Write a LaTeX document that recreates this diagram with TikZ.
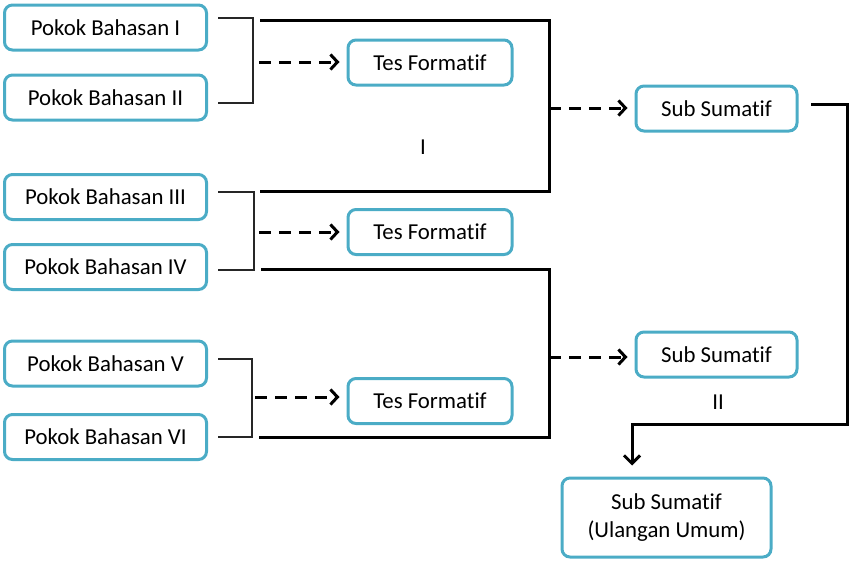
\documentclass[tikz,border=0pt]{standalone}
\usepackage{fontspec}
\setmainfont{Carlito}[Ligatures=NoCommon]
\usetikzlibrary{arrows.meta,calc}
\definecolor{boxblue}{HTML}{4BACC6}

\begin{document}
\begin{tikzpicture}[x=1pt,y=-1pt]
\useasboundingbox (0,0) rectangle (850,560);

\tikzset{box/.style = {draw=boxblue, line width=3pt, rounded corners=8pt, inner sep=0pt, align=center, font=\fontsize{22.8}{28}\selectfont}}
\tikzset{pokok/.style = {box, minimum width=202pt, minimum height=45pt}}
\tikzset{tes/.style = {box, minimum width=164pt, minimum height=45pt}}
\tikzset{brace/.style = {line width=1.2pt, black!85}}
\tikzset{thickline/.style = {line width=3pt, line join=miter}}
\tikzset{dasharrow/.style = {line width=3pt, dash pattern=on 12pt off 8pt, -{Straight Barb[length=7pt,width=15pt]}, shorten >=7pt}}

\foreach \pos/\name/\num in {{(105.5,27.5)/pb1/I}, {(105.5,97.5)/pb2/II}, {(105.5,197)/pb3/III}, {(105.5,267)/pb4/IV}, {(105.5,363.5)/pb5/V}, {(105.5,437)/pb6/VI}}
\node[pokok] (\name) at \pos {Pokok Bahasan \num};

\foreach \pos/\name in {{(430,62.5)/tf1}, {(430,232)/tf2}, {(430,401)/tf3}}
\node[tes] (\name) at \pos {Tes Formatif};

\foreach \pos/\name in {{(716.5,108.5)/ss1}, {(716.5,354.5)/ss2}}
\node[tes, minimum width=161pt] (\name) at \pos {Sub Sumatif};

\node[box, minimum width=209pt, minimum height=79pt] (su) at (666.5,517.5) {Sub Sumatif\\(Ulangan Umum)};

\node[font=\fontsize{22.8}{28}\selectfont] (lab1) at (423,147) {I};
\node[font=\fontsize{22.8}{28}\selectfont] (lab2) at (718,402) {II};

% thin brackets beside the topics
\foreach \n/\x/\ya/\yb in {1/253/18/103, 2/254/192/270, 3/252/359/437}{
\coordinate (br\n a) at (218,\ya);
\coordinate (br\n b) at (218,\yb);
\draw[brace] (br\n a) -- (\x,\ya) -- (\x,\yb) -- (br\n b);
}

% dashed arrows to the formative tests
\coordinate (d1) at (259,62);
\coordinate (d2) at (259,232);
\coordinate (d3) at (255,397);
\foreach \n in {1,2,3}
\draw[dasharrow] (d\n) -- (d\n -| tf\n.west);

% thick lines to the sub summatives
\coordinate (j1) at (549,108);
\coordinate (j2) at (549,357);
\draw[thickline] (260,20) -- (549,20) -- (549,191) -- (260,191);
\draw[thickline] (261,269) -- (549,269) -- (549,437) -- (259,437);
\draw[dasharrow] (j1) -- (j1 -| ss1.west);
\draw[dasharrow] (j2) -- (j2 -| ss2.west);

% down to the final test
\coordinate (s1) at (811,104);
\coordinate (s2) at (632,424);
\draw[thickline, -{Straight Barb[length=8pt,width=16pt]}, shorten >=11pt] (s1) -- (847,104) -- (847,424) -- (s2) -- (s2 |- su.north);
\end{tikzpicture}
\end{document}
